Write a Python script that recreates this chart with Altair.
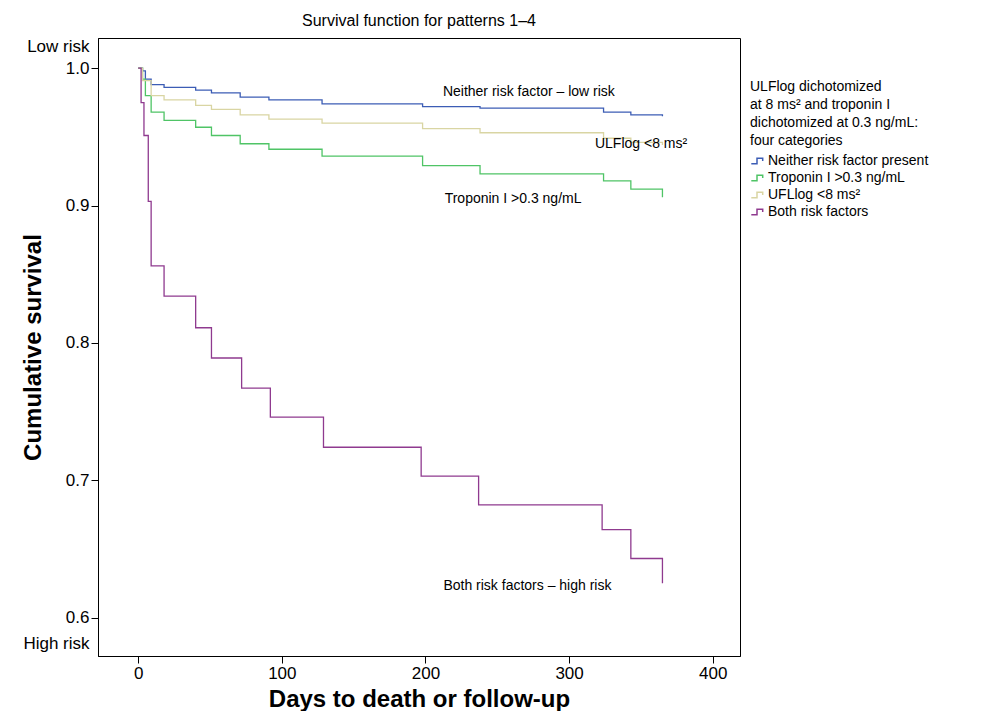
import pandas as pd
import altair as alt

series = ["Neither risk factor present", "Troponin I >0.3 ng/mL", "UFLlog <8 ms²", "Both risk factors"]
colors = ["#3c5db5", "#4fc466", "#d9d5a3", "#8f3a8f"]

days_top = [0, 3, 5, 9, 18, 40, 51, 71, 91, 128, 198, 238, 324, 343, 365]
neither = [1.0, 0.998, 0.992, 0.988, 0.986, 0.984, 0.982, 0.979, 0.977, 0.974, 0.972, 0.971, 0.968, 0.966, 0.965]
troponin = [1.0, 0.992, 0.980, 0.968, 0.962, 0.957, 0.951, 0.945, 0.941, 0.936, 0.929, 0.923, 0.918, 0.912, 0.906]
ufl = [1.0, 0.991, 0.991, 0.980, 0.977, 0.973, 0.970, 0.966, 0.963, 0.960, 0.956, 0.953, 0.949, 0.946, 0.944]

days_both = [0, 2, 4, 7, 9, 18, 40, 51, 72, 92, 129, 197, 237, 323, 343, 365]
both = [1.0, 0.975, 0.951, 0.903, 0.856, 0.834, 0.811, 0.789, 0.767, 0.746, 0.724, 0.703, 0.682, 0.664, 0.643, 0.625]

rows = []
for name, vals in zip(series[:3], [neither, troponin, ufl]):
    rows += [{"day": d, "surv": v, "group": name} for d, v in zip(days_top, vals)]
rows += [{"day": d, "surv": v, "group": series[3]} for d, v in zip(days_both, both)]
df = pd.DataFrame(rows)

notes = pd.DataFrame({
    "day": [272, 261, 271],
    "surv": [0.9825, 0.905, 0.623],
    "label": ["Neither risk factor – low risk", "Troponin I >0.3 ng/mL", "Both risk factors – high risk"],
})
notes_left = pd.DataFrame({"day": [318], "surv": [0.945], "label": ["ULFlog <8 ms²"]})

font = "Liberation Sans"

lines = alt.Chart(df).mark_line(interpolate="step-after", strokeWidth=1.3).encode(
    x=alt.X("day:Q", title="Days to death or follow-up",
            scale=alt.Scale(domain=[-28, 419], nice=False, zero=False),
            axis=alt.Axis(values=[0, 100, 200, 300, 400], grid=False, titlePadding=6)),
    y=alt.Y("surv:Q", title="Cumulative survival",
            scale=alt.Scale(domain=[0.572, 1.022], nice=False, zero=False),
            axis=alt.Axis(values=[0.581, 0.6, 0.7, 0.8, 0.9, 1.0, 1.016], grid=False,
                          titleX=-53, titleY=309, titleAnchor="middle",
                          labelExpr="datum.value < 0.59 ? 'High risk' : datum.value > 1.01 ? 'Low risk' : format(datum.value, '.1f')",
                          tickOpacity={"condition": {"test": "datum.value < 0.59 || datum.value > 1.01", "value": 0}, "value": 1})),
    color=alt.Color("group:N", scale=alt.Scale(domain=series, range=colors),
                    legend=alt.Legend(title=["ULFlog dichotomized", "at 8 ms² and troponin I",
                                             "dichotomized at 0.3 ng/mL:", "four categories"],
                                      orient="none", legendX=652, legendY=42,
                                      symbolType="M-1,0.5H0V-0.5H1V0", symbolStrokeWidth=1.5,
                                      symbolSize=130, labelFontSize=14, titleFontSize=14,
                                      titleFontWeight="normal", labelFont=font, titleFont=font,
                                      titleLineHeight=18, titlePadding=6, rowPadding=3,
                                      labelLimit=300, titleLimit=300,
                                      titleColor="black", labelColor="black", padding=0)),
)

text = alt.Chart(notes).mark_text(fontSize=14, font=font, color="black").encode(
    x="day:Q", y="surv:Q", text="label:N"
)
text_left = alt.Chart(notes_left).mark_text(fontSize=14, font=font, color="black", align="left").encode(
    x="day:Q", y="surv:Q", text="label:N"
)

chart = alt.layer(lines, text, text_left).properties(
    width=642, height=618,
    padding={"left": 13, "top": 5, "right": 5, "bottom": 0},
    title=alt.Title("Survival function for patterns 1–4", fontSize=16, fontWeight="normal", font=font, offset=8),
).configure_view(stroke="black", strokeWidth=1).configure_axis(
    labelFont=font, titleFont=font, labelFontSize=17, titleFontSize=24, titleFontWeight="bold",
    labelColor="black", titleColor="black", domainColor="black", tickColor="black", tickSize=7,
)

chart.save("out.html", embed_options={"renderer": "svg", "actions": False})
